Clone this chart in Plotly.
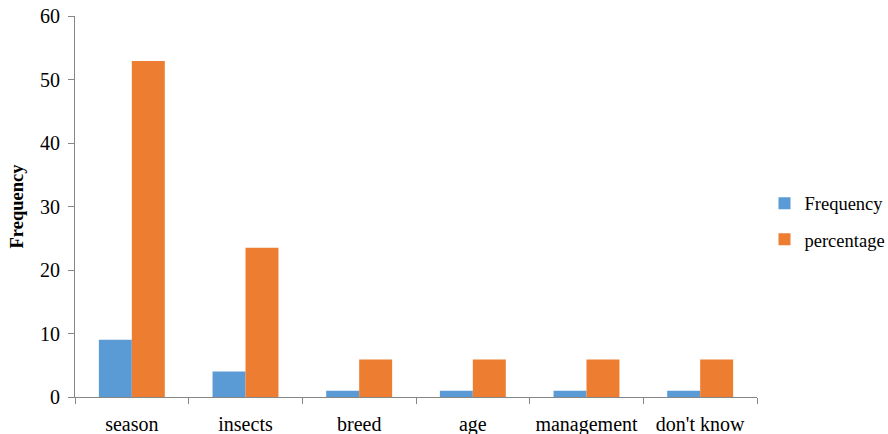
import plotly.graph_objects as go

categories = ["season", "insects", "breed", "age", "management", "don't know"]
frequency = [9, 4, 1, 1, 1, 1]
percentage = [52.9, 23.5, 5.9, 5.9, 5.9, 5.9]

fig = go.Figure()
fig.add_trace(go.Bar(x=categories, y=frequency, name="Frequency",
                     marker=dict(color="#5B9BD5", line=dict(width=0)),
                     legendgroup="a"))
fig.add_trace(go.Bar(x=categories, y=percentage, name="percentage",
                     marker=dict(color="#ED7D31", line=dict(width=0)),
                     legendgroup="b"))

axis_font = dict(family="Liberation Serif", size=20, color="#000000")
fig.update_layout(
    width=888, height=434,
    margin=dict(l=75, r=131, t=16, b=37, autoexpand=False),
    paper_bgcolor="white", plot_bgcolor="white",
    barmode="group", bargap=0.42, bargroupgap=0,
    font=axis_font,
    showlegend=True,
    legend=dict(x=1.011, y=0.46, xanchor="left", yanchor="middle",
                font=dict(family="Liberation Serif", size=18.5, color="#000"),
                traceorder="grouped", tracegroupgap=9,
                itemwidth=30),
    xaxis=dict(type="category", showline=True, linecolor="#868686", linewidth=1,
               ticks="outside", tickson="boundaries", ticklen=6, tickcolor="#868686",
               tickfont=axis_font, showgrid=False, automargin=False,
               ticklabelstandoff=9),
    yaxis=dict(range=[0, 60], dtick=10, showline=True, linecolor="#868686", linewidth=1,
               ticks="outside", ticklen=6, tickcolor="#868686", showgrid=False,
               zeroline=False, tickfont=axis_font, automargin=False,
               ticklabelstandoff=4,
               title=dict(text="<b>Frequency</b>", font=dict(family="Liberation Serif", size=18.5, color="#000"),
                          standoff=11)),
)
fig.write_html("out.html", config={"displayModeBar": False},
               post_script="document.body.style.margin='0';document.body.style.overflow='hidden';")
